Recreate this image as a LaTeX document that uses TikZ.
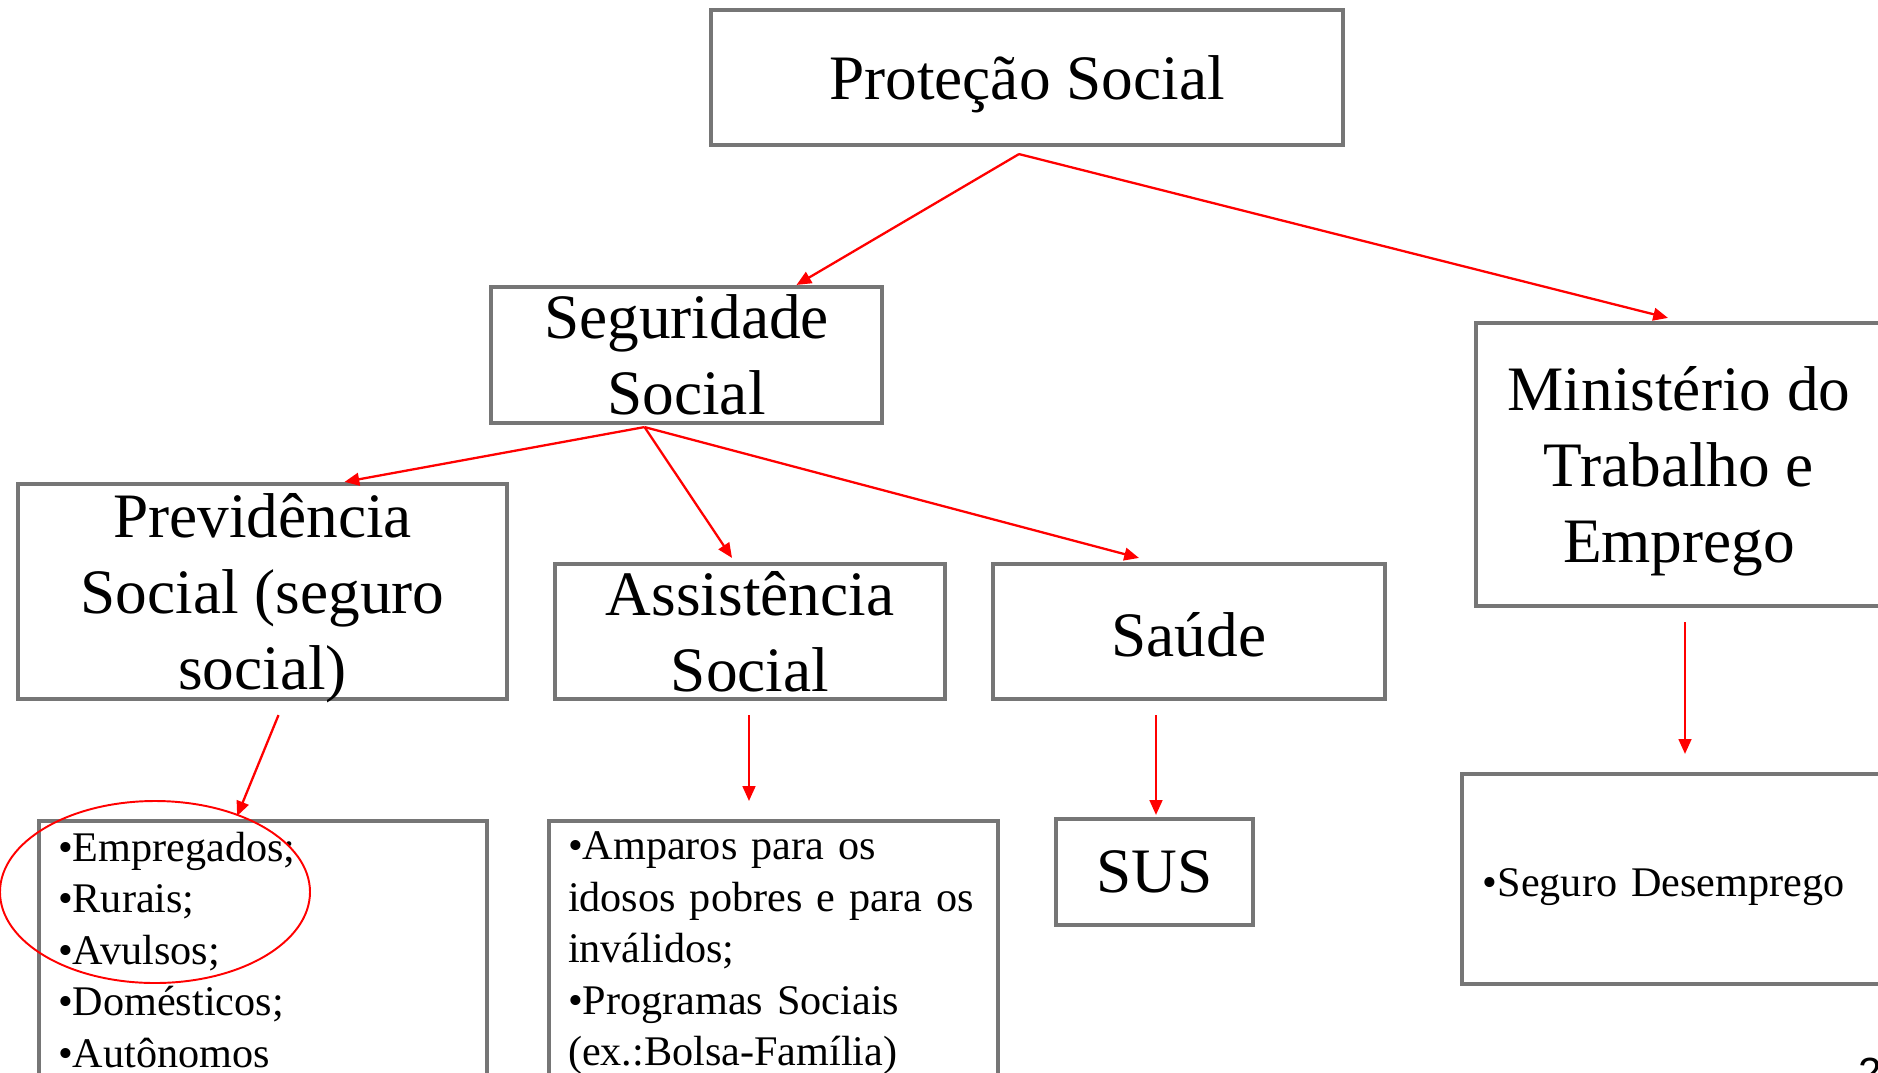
\documentclass[tikz,border=0pt]{standalone}
\usepackage{fontspec}
\setmainfont{Liberation Serif}
\newfontfamily\pagefont{Liberation Sans}
\usetikzlibrary{arrows.meta,calc}

\definecolor{boxgray}{RGB}{118,118,118}
\definecolor{arrowred}{RGB}{255,0,0}

\begin{document}
\begin{tikzpicture}[x=0.01cm,y=-0.01cm,>={Triangle[length=4.2pt,width=3.6pt]},
  box/.style={draw=boxgray,line width=1.15pt,inner sep=0pt,align=center,text depth=0pt,
    font=\fontsize{18}{21.6}\selectfont},
  listbox/.style={draw=boxgray,line width=1.15pt,anchor=north west,align=left,
    inner xsep=0.19cm,inner ysep=0.11cm,font=\fontsize{12}{14.65}\selectfont},
  seta/.style={->,draw=arrowred,line width=0.65pt}]

  % page size (pixels of the slide)
  \useasboundingbox (0,0) rectangle (1878,1072);

  % ============== Top levels =================
  \node[box,minimum width=6.32cm,minimum height=1.35cm] (prot) at (1027,77.5) {Proteção Social};
  \node[box,minimum width=3.91cm,minimum height=1.36cm] (seg) at (686.5,355) {Seguridade\\Social};
  \node[box,minimum width=4.06cm,minimum height=2.83cm] (mte) at (1679,464.5) {Ministério do\\Trabalho e\\Emprego};

  % ============== Seguridade branches =================
  \node[box,minimum width=4.89cm,minimum height=2.15cm] (prev) at (262.5,591.5) {Previdência\\Social (seguro\\social)};
  \node[box,minimum width=3.90cm,minimum height=1.35cm] (assist) at (750,631.5) {Assistência\\Social};
  \node[box,minimum width=3.92cm,minimum height=1.35cm,text height=14.2pt] (saude) at (1189,631.5) {Saúde};

  % ============== Bottom row =================
  \node[listbox,text width=4.10cm] (segurados) at (37,819)
    {•Empregados;\\•Rurais;\\•Avulsos;\\•Domésticos;\\•Autônomos};
  \node[listbox,text width=4.11cm] (amparos) at (547,819)
    {•Amparos para os\\idosos pobres e  para os\\inválidos;\\•Programas Sociais\\(ex.:Bolsa-Família)};
  \node[box,minimum width=1.97cm,minimum height=1.06cm] (sus) at (1154.5,872) {SUS};
  \node[box,align=left,text width=3.78cm,inner xsep=0.21cm,minimum height=2.1cm,
    text height=12.4pt,text depth=2.6pt,
    font=\fontsize{12}{14.65}\selectfont] (desemp) at (1672,879) {•Seguro Desemprego};

  % circled group
  \draw[arrowred,line width=0.55pt] (155,892) ellipse [x radius=155,y radius=91];

  % ============== Arrows =================
  \coordinate (protout) at ($(prot.south)+(-8,7)$);
  \draw[seta] (protout) -- ($(seg.north)+(110,0)$);
  \draw[seta] (protout) -- ($(mte.north)+(-11,-3)$);

  \coordinate (segout) at ($(seg.south)+(-42,2)$);
  \draw[seta] (segout) -- ($(prev.north)+(82,0)$);
  \draw[seta] (segout) -- ($(assist.north)+(-18,-4)$);
  \draw[seta] (segout) -- ($(saude.north)+(-50,-4)$);

  \draw[seta] ($(prev.south)+(16,14)$) -- ($(segurados.north)+(-26,-3)$);
  \draw[seta] ($(assist.south)+(-1,14)$) -- ($(assist.south |- amparos.north)+(-1,-18)$);
  \draw[seta] ($(saude.south)+(-33,14)$) -- ($(saude.south |- sus.north)+(-33,-2)$);
  \draw[seta] ($(mte.south)+(6,14)$) -- ($(mte.south |- desemp.north)+(6,-18)$);

  % slide number
  \node[font=\pagefont\fontsize{12}{14}\selectfont,anchor=north west,inner sep=0pt] (pagenum) at (1858,1057) {2};

\end{tikzpicture}
\end{document}
